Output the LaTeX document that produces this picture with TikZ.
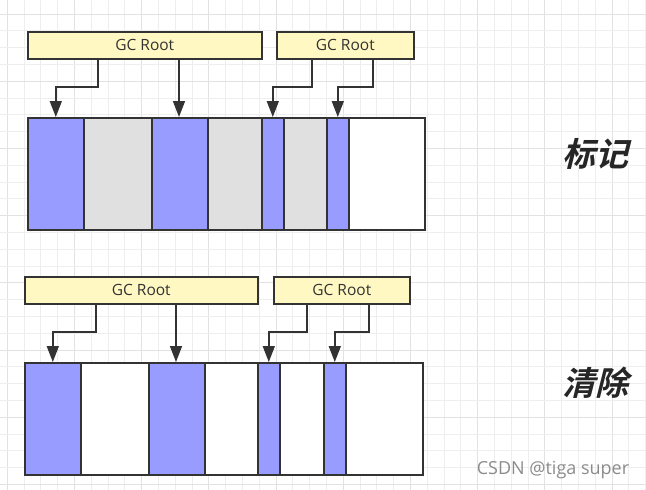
\documentclass[tikz,border=0pt]{standalone}
\usepackage{fontspec}
\setmainfont{Open Sans}
\newfontfamily\cjk{Noto Sans CJK SC}[BoldFont={Noto Sans CJK SC Bold}, BoldFeatures={FakeSlant=0.25}]
\usetikzlibrary{arrows.meta}
\definecolor{gridminor}{HTML}{EEEEEE}
\definecolor{gridmajor}{HTML}{E2E2E2}
\definecolor{liveblue}{HTML}{999CFF}
\definecolor{deadgray}{HTML}{E0E0E0}
\definecolor{rootyellow}{HTML}{FFF8C2}
\definecolor{edge}{HTML}{333333}
\tikzset{
  cell/.style={draw=edge, line width=1.6pt, rectangle, anchor=north west, inner sep=0pt, minimum height=112pt},
  live/.style={cell, fill=liveblue},
  dead/.style={cell, fill=deadgray},
  free/.style={cell, fill=white},
  rootbox/.style={draw=edge, line width=1.6pt, fill=rootyellow, rectangle, anchor=north west, inner sep=0pt, minimum height=27pt, text=edge, font=\fontsize{15.5}{17}\selectfont},
  arr/.style={draw=edge, line width=1.6pt, -{Triangle[length=16pt,width=12pt]}},
  phase/.style={font=\cjk\bfseries\fontsize{33}{36}\selectfont, text=black!85},
}
\begin{document}
\begin{tikzpicture}[x=1pt,y=-1pt]
\useasboundingbox (0,0) rectangle (646,490);
\fill[white] (0,0) rectangle (646,490);
% background grid
\foreach \i in {0,...,38} {
  \pgfmathsetmacro{\xx}{7.2+16.8*\i}
  \pgfmathtruncatemacro{\m}{mod(\i,4)}
  \ifnum\m=0 \draw[gridmajor, line width=0.9pt] (\xx,0) -- (\xx,490);
  \else \draw[gridminor, line width=0.8pt] (\xx,0) -- (\xx,490); \fi
}
\foreach \i in {0,...,28} {
  \pgfmathsetmacro{\yy}{14+16.8*\i}
  \pgfmathtruncatemacro{\m}{mod(\i,4)}
  \ifnum\m=0 \draw[gridmajor, line width=0.9pt] (0,\yy) -- (646,\yy);
  \else \draw[gridminor, line width=0.8pt] (0,\yy) -- (646,\yy); \fi
}

% ===== Mark phase =====
\node[rootbox, minimum width=234pt] (ra) at (27,31) {GC Root};
\node[rootbox, minimum width=137pt] (rb) at (276,31) {GC Root};
\node[live, minimum width=56pt] (a1) at (27,117) {};
\node[dead, minimum width=68pt] (a2) at (83,117) {};
\node[live, minimum width=56pt] (a3) at (151,117) {};
\node[dead, minimum width=54pt] (a4) at (207,117) {};
\node[live, minimum width=22pt] (a5) at (261,117) {};
\node[dead, minimum width=43pt] (a6) at (283,117) {};
\node[live, minimum width=22pt] (a7) at (326,117) {};
\node[free, minimum width=76pt] (a8) at (348,117) {};
\coordinate (sa1) at (98,58);
\coordinate (sa2) at (179,58);
\coordinate (sa3) at (312,58);
\coordinate (sa4) at (373,58);
\draw[arr] (sa1) -- ++(0,29) -| (a1.north);
\draw[arr] (sa2) -- (sa2 |- a3.north);
\draw[arr] (sa3) -- ++(0,29) -| (a5.north);
\draw[arr] (sa4) -- ++(0,29) -| (a7.north);
\node[phase] (mark) at (595,154) {标记};

% ===== Sweep phase =====
\node[rootbox, minimum width=233pt] (rc) at (24,276) {GC Root};
\node[rootbox, minimum width=136pt] (rd) at (273,276) {GC Root};
\node[live, minimum width=56pt] (b1) at (24,362) {};
\node[free, minimum width=68pt] (b2) at (80,362) {};
\node[live, minimum width=56pt] (b3) at (148,362) {};
\node[free, minimum width=53pt] (b4) at (204,362) {};
\node[live, minimum width=22pt] (b5) at (257,362) {};
\node[free, minimum width=44pt] (b6) at (279,362) {};
\node[live, minimum width=22pt] (b7) at (323,362) {};
\node[free, minimum width=77pt] (b8) at (345,362) {};
\coordinate (sb1) at (96,303);
\coordinate (sb2) at (176,303);
\coordinate (sb3) at (307,303);
\coordinate (sb4) at (369,303);
\draw[arr] (sb1) -- ++(0,29) -| (b1.north);
\draw[arr] (sb2) -- (sb2 |- b3.north);
\draw[arr] (sb3) -- ++(0,29) -| (b5.north);
\draw[arr] (sb4) -- ++(0,29) -| (b7.north);
\node[phase] (sweep) at (595,383) {清除};

\node[text=black!45, font=\fontsize{18}{20}\selectfont] (wm) at (553,470) {CSDN @tiga super};
\end{tikzpicture}
\end{document}
